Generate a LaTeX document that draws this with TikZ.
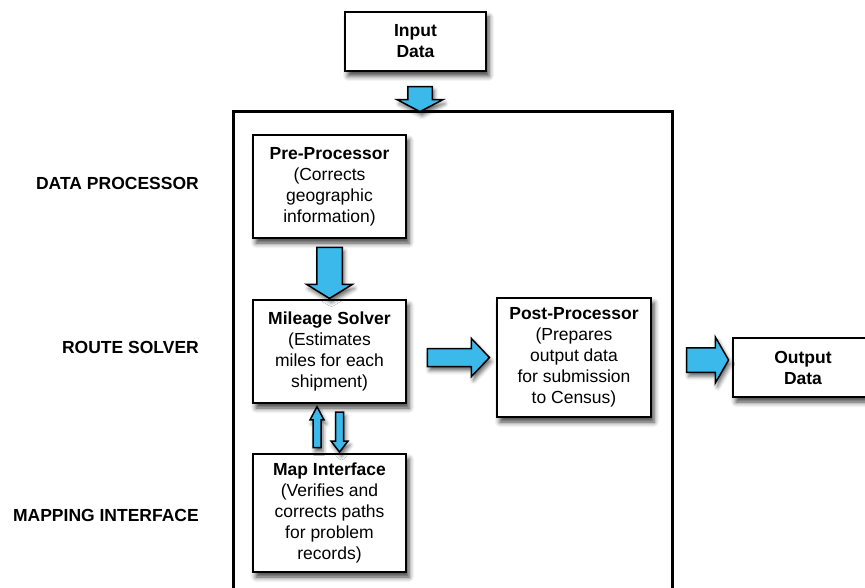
\documentclass[tikz,border=0pt]{standalone}
\usepackage{fontspec}
\setmainfont{Liberation Sans}
\usetikzlibrary{shapes.arrows,shadows.blur}
\definecolor{arrowblue}{RGB}{60,185,235}
\newcommand\diagfont{\fontsize{17.5}{21}\selectfont}
\tikzset{
  box/.style={draw, line width=1.5pt, fill=white, align=center, inner sep=0pt,
    blur shadow={shadow xshift=3pt, shadow yshift=-5pt, shadow blur radius=5pt, shadow opacity=75}},
  rowlabel/.style={anchor=east, inner sep=0pt, font=\diagfont\bfseries},
  fatarrow/.style n args={4}{single arrow, draw=black, fill=arrowblue, line width=1.5pt,
    inner xsep=0pt, inner ysep=#2, minimum height=#1, single arrow head extend=#3,
    single arrow tip angle=#4,
    blur shadow={shadow xshift=2pt, shadow yshift=-4pt, shadow blur radius=4pt, shadow opacity=60}}
}
\begin{document}
\begin{tikzpicture}[x=1pt, y=-1pt, font=\diagfont]
  \useasboundingbox (0,0) rectangle (865,588);
  % outer frame, open at the bottom
  \draw[line width=3pt] (233,600) -- (233,112) -- (672,112) -- (672,600);
  \coordinate (top) at (420,112);

  % boxes
  \node[box, minimum width=141pt, minimum height=59pt] (inp) at (415.5,41.5) {\bfseries Input\\\bfseries Data};
  \node[box, minimum width=153pt, minimum height=103pt] (pre) at (329.5,186.5)
    {\bfseries Pre-Processor\\(Corrects\\geographic\\information)};
  \node[box, minimum width=153pt, minimum height=103pt] (mil) at (329.5,351.5)
    {\bfseries Mileage Solver\\(Estimates\\miles for each\\shipment)};
  \node[box, minimum width=153pt, minimum height=118pt] (map) at (329.5,513)
    {\bfseries Map Interface\\(Verifies and\\corrects paths\\for problem\\records)};
  \node[box, minimum width=154pt, minimum height=119pt] (post) at (574,357.5)
    {\bfseries Post-Processor\\(Prepares\\output data\\for submission\\to Census)};
  \node[box, minimum width=140pt, minimum height=59pt] (out) at (803,367.5) {\bfseries Output\\\bfseries Data};

  % row labels
  \node[rowlabel] (lpre) at (199,183) {DATA PROCESSOR};
  \node[rowlabel] (lmil) at (199,347) {ROUTE SOLVER};
  \node[rowlabel] (lmap) at (199,515.5) {MAPPING INTERFACE};

  % block arrows
  \path (inp.south -| top) -- (top) node[pos=.6, sloped, fatarrow={25pt}{11.5pt}{10.5pt}{125}] {};
  \path (pre) -- (mil) node[midway, sloped, fatarrow={51pt}{12pt}{10pt}{117}] {};
  \path (mil.east |- post) -- (post.west) node[pos=.53, sloped, fatarrow={62pt}{8.25pt}{10pt}{93}] {};
  \path ([yshift=-2.5pt]post.east) -- ([yshift=-2.5pt]post.east -| out.west)
    node[pos=.65, sloped, fatarrow={42pt}{11.5pt}{10.5pt}{120}] {};
  \path ([xshift=-12.5pt]map.north) -- ([xshift=-12.5pt]mil.south)
    node[pos=.45, sloped, fatarrow={41pt}{3.25pt}{3pt}{56}] {};
  \path ([xshift=10pt]mil.south) -- ([xshift=10pt]map.north)
    node[pos=.52, sloped, fatarrow={40pt}{3.25pt}{4.5pt}{75}] {};
\end{tikzpicture}
\end{document}
